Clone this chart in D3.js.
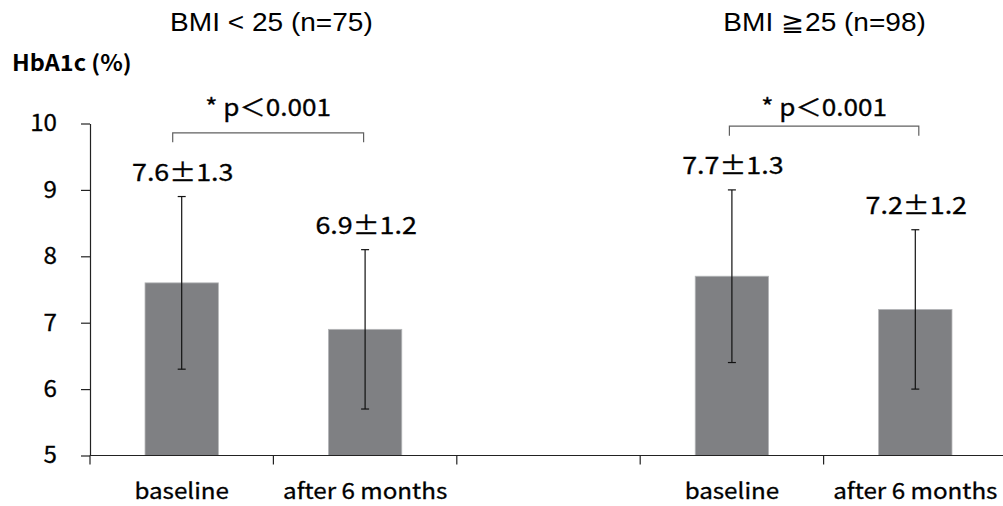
<!DOCTYPE html>
<html>
<head>
<meta charset="utf-8">
<script src="https://cdn.jsdelivr.net/npm/d3@7/dist/d3.min.js"></script>
<style>
  html, body { margin: 0; padding: 0; background: #fff; }
  svg { display: block; }
</style>
</head>
<body>
<svg id="chart" width="1003" height="506"></svg>
<script>
// HbA1c (%) at baseline and after 6 months, split by BMI group
const slots = ["g1-base", "g1-after", "gap", "g2-base", "g2-after"];
const slotLabels = ["baseline", "after 6 months", "", "baseline", "after 6 months"];
const barSlots = ["g1-base", "g1-after", "g2-base", "g2-after"];
const means = [7.6, 6.9, 7.7, 7.2];
const sds = [1.3, 1.2, 1.3, 1.2];
const valueLabels = ["7.6\u00B11.3", "6.9\u00B11.2", "7.7\u00B11.3", "7.2\u00B11.2"];
const yTicks = [5, 6, 7, 8, 9, 10];
const groupTitles = ["BMI < 25 (n=75)", "BMI \u226725 (n=98)"];
const groupPairs = [["g1-base", "g1-after"], ["g2-base", "g2-after"]];
const pLabels = ["* p\uFF1C0.001", "* p\uFF1C0.001"];
const bracketValues = [9.86, 9.96];

const svg = d3.select("#chart");
const jp = "'Noto Sans CJK JP', 'Noto Sans', sans-serif";
const latin = "'Liberation Sans', Arial, sans-serif";

const x = d3.scaleBand().domain(slots).range([90, 1007]).padding(0);
const y = d3.scaleLinear().domain([5, 10]).range([455.5, 123.5]);
const bw = x.bandwidth();
const barW = bw * 0.4;
const cx = s => x(s) + bw / 2;

// text helper: slightly widened glyphs
function addText(parent, px, py, str, o) {
  const g = parent.append("g")
    .attr("transform", `translate(${px},${py}) scale(${o.sx || 1},1)`);
  return g.append("text")
    .attr("text-anchor", o.anchor || "middle")
    .attr("font-family", o.family || jp)
    .attr("font-size", o.size)
    .attr("font-weight", o.weight || 400)
    .attr("fill", "#000")
    .attr("stroke", o.stroke ? "#000" : "none")
    .attr("stroke-width", o.stroke || 0)
    .text(str);
}

// y axis
const yAxis = svg.append("g")
  .attr("transform", "translate(90,0)")
  .call(d3.axisLeft(y).tickValues(yTicks).tickFormat(d3.format("d")).tickSize(9).tickSizeOuter(0));
yAxis.select(".domain").attr("stroke", "#222").attr("stroke-width", 1.2);
yAxis.selectAll(".tick line").attr("stroke", "#222").attr("stroke-width", 1.2);
yAxis.selectAll(".tick text")
  .attr("x", 0)
  .attr("transform", "translate(-33,0) scale(1.05,1)")
  .attr("font-family", jp).attr("font-size", 23).attr("fill", "#000")
  .attr("stroke", "#000").attr("stroke-width", 0.3);

// bars
svg.append("g").selectAll("rect")
  .data(barSlots)
  .join("rect")
  .attr("x", d => cx(d) - barW / 2)
  .attr("width", barW)
  .attr("y", (d, i) => y(means[i]))
  .attr("height", (d, i) => y(5) - y(means[i]))
  .attr("fill", "#7f8083")
  .attr("stroke", "#b5b6b8")
  .attr("stroke-width", 0.8);

// x axis with boundary ticks
const xAxis = svg.append("g").attr("transform", `translate(0,${y(5)})`);
xAxis.append("line")
  .attr("x1", 90).attr("x2", 1003)
  .attr("stroke", "#222").attr("stroke-width", 1.2);
xAxis.selectAll("line.tk")
  .data(slots)
  .join("line")
  .attr("class", "tk")
  .attr("x1", d => x(d)).attr("x2", d => x(d))
  .attr("y1", 0).attr("y2", 9)
  .attr("stroke", "#222").attr("stroke-width", 1.2);
slots.forEach((s, i) => {
  if (slotLabels[i]) addText(xAxis, cx(s), 43, slotLabels[i], { size: 22, sx: 1.1, stroke: 0.3 });
});

// error bars
const err = svg.append("g").attr("stroke", "#111").attr("stroke-width", 1.2);
barSlots.forEach((s, i) => {
  const hi = y(means[i] + sds[i]), lo = y(means[i] - sds[i]), c = cx(s);
  err.append("line").attr("x1", c).attr("x2", c).attr("y1", hi).attr("y2", lo);
  err.append("line").attr("x1", c - 4).attr("x2", c + 4).attr("y1", hi).attr("y2", hi);
  err.append("line").attr("x1", c - 4).attr("x2", c + 4).attr("y1", lo).attr("y2", lo);
});

// mean ± SD labels
const vl = svg.append("g");
barSlots.forEach((s, i) => {
  addText(vl, cx(s) + 1, y(means[i] + sds[i]) - 16, valueLabels[i], { size: 24, sx: 1.12, stroke: 0.3 });
});

// significance brackets
groupPairs.forEach((pair, g) => {
  const x1 = cx(pair[0]) - 9 + g * 6.5, x2 = cx(pair[1]) - 1.5 + g * 5;
  const yb = y(bracketValues[g]);
  svg.append("path")
    .attr("d", `M${x1},${yb + 9.5}V${yb}H${x2}V${yb + 9.5}`)
    .attr("fill", "none").attr("stroke", "#606060").attr("stroke-width", 1.2);
  addText(svg, (x1 + x2) / 2, 116, pLabels[g], { size: 24, sx: 1.09, stroke: 0.3 });
});

// group titles
groupPairs.forEach((pair, g) => {
  addText(svg, (cx(pair[0]) + cx(pair[1])) / 2 - 2 + g * 3, 30.5, groupTitles[g],
    { family: latin, size: 25.5, sx: 1.1 });
});

// y axis title
addText(svg, 12, 71, "HbA1c (%)", { anchor: "start", size: 22, weight: 700, sx: 1.065 });
</script>
</body>
</html>
